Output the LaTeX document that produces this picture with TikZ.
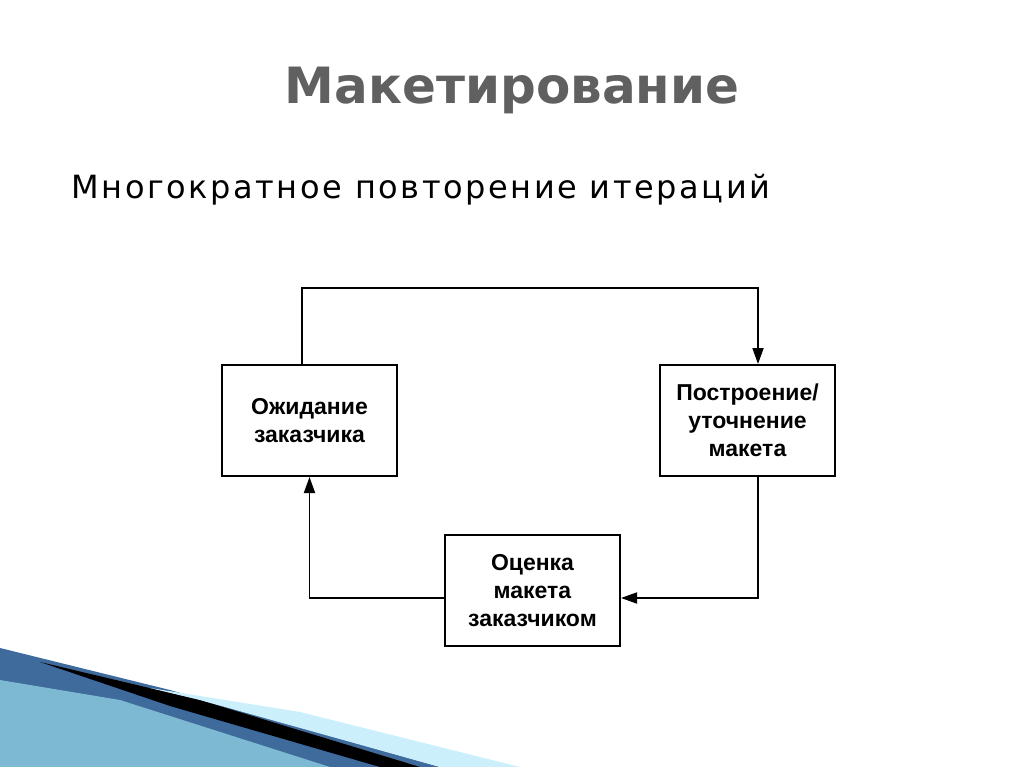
\documentclass[tikz,border=0pt]{standalone}
\usepackage{fontspec}
\setmainfont{Liberation Sans}
\newfontfamily\titlefont{DejaVu Sans}
\newfontfamily\subfont[LetterSpace=8]{DejaVu Sans}
\usetikzlibrary{arrows.meta}
\begin{document}
\begin{tikzpicture}[x=1pt,y=-1pt,
  box/.style={draw,line width=2pt,minimum width=175pt,minimum height=111pt,align=center,font=\fontsize{23}{28}\selectfont,inner sep=0pt},
  conn/.style={line width=1.8pt},
  arr/.style={conn,-{Triangle[length=16pt,width=11pt]}}]
\useasboundingbox (0,0) rectangle (1024,767);
\fill[white] (0,0) rectangle (1024,767);
% decoration
\fill[cyan!55!blue!70!black] (0,648) -- (170,690) -- (440,767) -- (0,767) -- cycle;
\fill[cyan!40!teal!60] (0,680) -- (120,700) -- (330,767) -- (0,767) -- cycle;
\fill[black] (40,662) -- (200,700) -- (420,767) -- (380,767) -- (170,706) -- cycle;
\fill[cyan!20] (150,688) -- (300,712) -- (520,767) -- (440,767) -- (200,700) -- cycle;
\node[font=\titlefont\bfseries\fontsize{50}{58}\selectfont,text=gray!75!black] (title) at (512,90) {Макетирование};
\node[anchor=west,font=\subfont\fontsize{32}{38}\selectfont] (sub) at (68,190) {Многократное повторение итераций};
\node[box] (a) at (309.5,420.5) {\bfseries Ожидание\\\bfseries заказчика};
\node[box] (b) at (747.5,420.5) {\bfseries Построение/\\\bfseries уточнение\\\bfseries макета};
\node[box] (c) at (532.5,590.5) {\bfseries Оценка\\\bfseries макета\\\bfseries заказчиком};
\coordinate (p1) at (302,288);
\coordinate (p2) at (758,288);
\coordinate (p3) at (0,598);
\draw[arr] (a.north -| p1) |- (p2) -- (b.north -| p2);
\draw[arr] (b.south -| p2) |- (c.east |- p3);
\draw[arr] (c.west |- p3) -| (a.south);
\end{tikzpicture}
\end{document}
